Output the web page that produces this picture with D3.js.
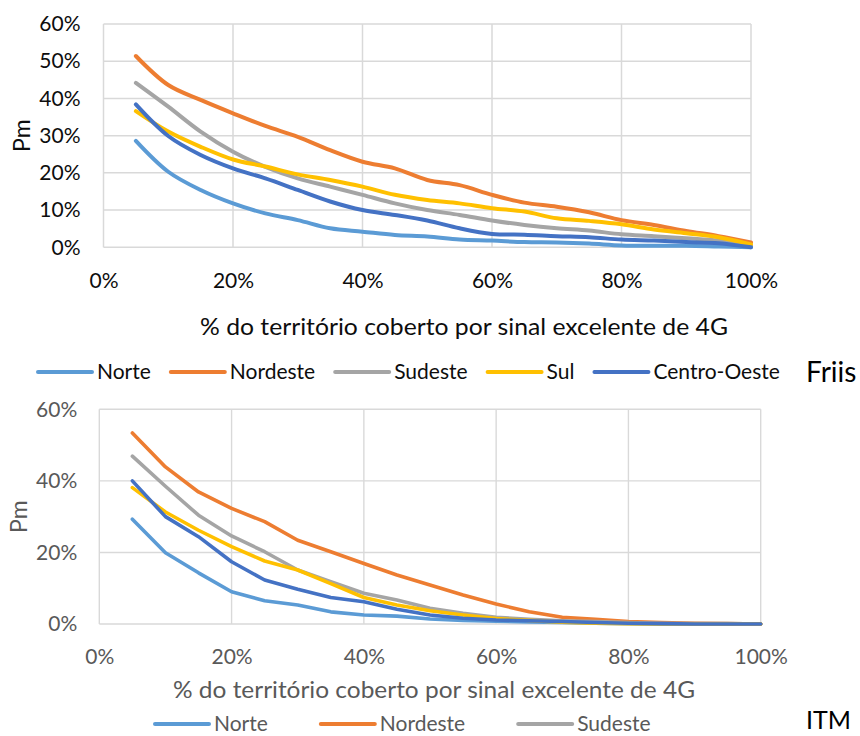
<!DOCTYPE html>
<html>
<head>
<meta charset="utf-8">
<script src="https://cdn.jsdelivr.net/npm/d3@7"></script>
<style>
  html, body { margin: 0; padding: 0; background: #fff; }
  svg { display: block; }
  text { font-family: "Lato", "Open Sans", sans-serif; }
</style>
</head>
<body>
<svg id="chart" width="860" height="736"></svg>
<script>
// ---------- DATA ----------
const xValues = [0.05,0.10,0.15,0.20,0.25,0.30,0.35,0.40,0.45,0.50,0.55,0.60,0.65,0.70,0.75,0.80,0.85,0.90,0.95,1.00];
const seriesNames = ["Norte","Nordeste","Sudeste","Sul","Centro-Oeste"];
const seriesColors = ["#5B9BD5","#ED7D31","#A5A5A5","#FFC000","#4472C4"];

// Friis (percent)
const friisNorte    = [28.6,20.3,15.4,11.8,9.1,7.3,5.1,4.2,3.3,2.9,2.1,1.8,1.4,1.3,1.0,0.5,0.4,0.4,0.2,0.0];
const friisNordeste = [51.4,43.6,39.6,36.0,32.6,29.7,26.1,23.0,21.2,18.1,16.7,14.1,12.0,10.9,9.4,7.3,6.0,4.4,3.0,1.3];
const friisSudeste  = [44.2,37.8,31.1,25.7,21.6,18.5,16.3,14.1,11.8,10.0,8.7,7.2,6.0,5.1,4.5,3.5,3.0,2.4,1.8,0.4];
const friisSul      = [36.6,31.1,27.0,23.6,21.7,19.6,18.1,16.3,14.1,12.7,11.8,10.5,9.6,7.8,7.1,6.2,4.8,3.8,2.7,0.8];
const friisCO       = [38.4,29.9,24.8,21.2,18.5,15.4,12.3,10.0,8.7,7.2,5.1,3.6,3.4,3.0,2.7,2.1,1.8,1.4,1.1,0.0];

// ITM (percent)
const itmNorte    = [29.3,19.9,14.3,9.0,6.5,5.3,3.4,2.5,2.2,1.4,1.0,0.8,0.6,0.4,0.2,0.1,0.0,0.0,0.0,0.0];
const itmNordeste = [53.4,43.9,36.9,32.3,28.6,23.4,20.2,16.9,13.7,10.9,8.1,5.6,3.4,1.9,1.3,0.7,0.4,0.2,0.1,0.0];
const itmSudeste  = [46.9,38.5,30.4,24.6,20.2,15.1,11.8,8.6,6.7,4.4,3.0,1.9,1.3,0.9,0.7,0.4,0.2,0.1,0.1,0.0];
const itmSul      = [38.1,31.3,26.2,21.6,17.6,15.1,11.3,7.4,5.3,3.7,2.5,1.5,1.0,0.5,0.2,0.1,0.0,0.0,0.0,0.0];
const itmCO       = [40.0,30.0,24.4,17.4,12.3,9.7,7.4,6.2,4.1,2.5,1.6,1.1,0.9,0.7,0.4,0.2,0.1,0.0,0.0,0.0];

const xTicks = [0,0.2,0.4,0.6,0.8,1.0];
const friisYTicks = [0,0.1,0.2,0.3,0.4,0.5,0.6];
const itmYTicks = [0,0.2,0.4,0.6];
const axisTitle = "% do território coberto por sinal excelente de 4G";
const yTitle = "Pm";

// ---------- DRAW ----------
const svg = d3.select("#chart");
svg.append("rect").attr("width",860).attr("height",736).attr("fill","#fff");
const pct = d3.format(".0%");

function panel(cfg) {
  const g = svg.append("g");
  const x = d3.scaleLinear().domain([0,1]).range([cfg.left, cfg.right]);
  const y = d3.scaleLinear().domain([0,0.6]).range([cfg.bottom, cfg.top]);

  // gridlines
  g.append("g").selectAll("line.h").data(cfg.yTicks).join("line")
    .attr("x1", x(0)).attr("x2", x(1))
    .attr("y1", d => y(d)).attr("y2", d => y(d))
    .attr("stroke", "#D9D9D9").attr("stroke-width", cfg.gridW);
  g.append("g").selectAll("line.v").data(xTicks).join("line")
    .attr("x1", d => x(d)).attr("x2", d => x(d))
    .attr("y1", y(0)).attr("y2", y(0.6))
    .attr("stroke", "#D9D9D9").attr("stroke-width", cfg.gridW);

  // y axis labels
  const ya = g.append("g").attr("transform", `translate(${x(0)},0)`)
    .call(d3.axisLeft(y).tickValues(cfg.yTicks).tickFormat(pct).tickSize(0).tickPadding(cfg.yPad));
  ya.select(".domain").remove();
  ya.selectAll("text").attr("font-size", cfg.fs).attr("fill", cfg.textColor)
    .attr("font-family", "Lato, sans-serif");

  // x axis labels
  const xa = g.append("g").attr("transform", `translate(0,${y(0)})`)
    .call(d3.axisBottom(x).tickValues(xTicks).tickFormat(pct).tickSize(0));
  xa.select(".domain").remove();
  xa.selectAll("text").attr("font-size", cfg.fs).attr("fill", cfg.textColor)
    .attr("y", cfg.xLabOff).attr("dy", "0.35em")
    .attr("font-family", "Lato, sans-serif");

  // lines
  const line = d3.line()
    .x((d, i) => x(xValues[i]))
    .y(d => y(d / 100))
    .curve(cfg.curve);
  g.append("g").selectAll("path").data(cfg.series).join("path")
    .attr("d", d => line(d))
    .attr("fill", "none")
    .attr("stroke", (d, i) => seriesColors[i])
    .attr("stroke-width", cfg.lineW)
    .attr("stroke-linejoin", "round")
    .attr("stroke-linecap", "round");

  // y title
  g.append("text")
    .attr("transform", `translate(${cfg.pmX},${(y(0)+y(0.6))/2}) rotate(-90)`)
    .attr("text-anchor", "middle").attr("dy", "0.35em")
    .attr("font-size", cfg.pmFs).attr("fill", cfg.textColor).text(yTitle);

  // x title
  g.append("text").attr("x", cfg.titleX).attr("y", cfg.titleY)
    .attr("text-anchor", "middle").attr("dy", "0.35em")
    .attr("font-size", 23.5).attr("fill", cfg.textColor)
    .attr("textLength", cfg.titleW).attr("lengthAdjust", "spacingAndGlyphs")
    .text(axisTitle);

  // legend
  const leg = g.append("g");
  let cx = cfg.legStart;
  cfg.legendItems.forEach((name) => {
    const i = seriesNames.indexOf(name);
    leg.append("line").attr("x1", cx).attr("x2", cx + 54)
      .attr("y1", cfg.legY).attr("y2", cfg.legY)
      .attr("stroke", seriesColors[i]).attr("stroke-width", 4).attr("stroke-linecap", "round");
    const t = leg.append("text").attr("x", cx + 59).attr("y", cfg.legY).attr("dy", "0.35em")
      .attr("font-size", cfg.fs).attr("fill", cfg.textColor).text(name);
    cx = cx + 59 + t.node().getComputedTextLength() + cfg.legGap;
  });

  // model label
  g.append("text").attr("x", cfg.modelX).attr("y", cfg.modelY).attr("dy", "0.35em")
    .attr("font-size", cfg.modelFs).attr("fill", "#000").text(cfg.model);
}

panel({
  left: 103.5, right: 751, top: 24, bottom: 247.3,
  yTicks: friisYTicks,
  series: [friisNorte, friisNordeste, friisSudeste, friisSul, friisCO],
  curve: d3.curveCatmullRom.alpha(0.5),
  gridW: 1.5, lineW: 4, fs: 21, pmFs: 23, textColor: "#0d0d0d",
  yPad: 23, xLabOff: 33, pmX: 22,
  titleX: 464, titleY: 327, titleW: 528,
  legY: 372, legStart: 38, legGap: 20,
  legendItems: ["Norte","Nordeste","Sudeste","Sul","Centro-Oeste"],
  model: "Friis", modelX: 806, modelY: 372, modelFs: 28
});

panel({
  left: 99.3, right: 760.7, top: 409.3, bottom: 624,
  yTicks: itmYTicks,
  series: [itmNorte, itmNordeste, itmSudeste, itmSul, itmCO],
  curve: d3.curveLinear,
  gridW: 1.4, lineW: 3.6, fs: 21, pmFs: 23, textColor: "#595959",
  yPad: 22, xLabOff: 33, pmX: 19,
  titleX: 434, titleY: 690, titleW: 522,
  legY: 724, legStart: 155, legGap: 53,
  legendItems: ["Norte","Nordeste","Sudeste"],
  model: "ITM", modelX: 806, modelY: 720, modelFs: 25
});
</script>
</body>
</html>
